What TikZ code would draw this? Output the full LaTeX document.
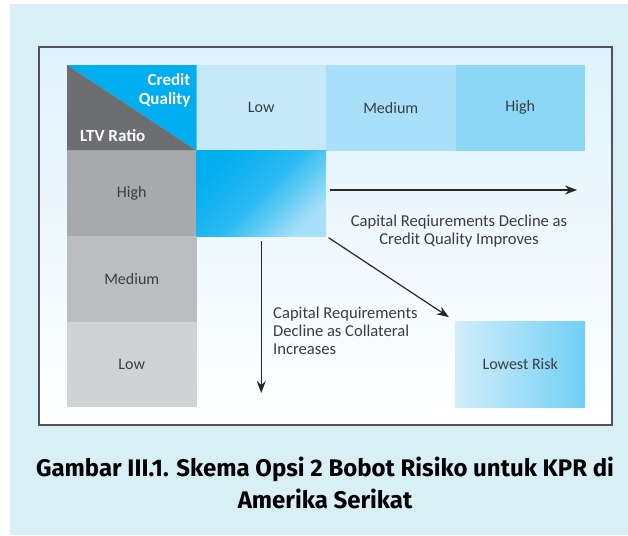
\documentclass[tikz,border=0pt]{standalone}
\usepackage{fontspec}
\usepackage{xcolor}
\setmainfont{Carlito}
\newfontfamily\capfont{Fira Sans}
\usetikzlibrary{positioning}
\usetikzlibrary{arrows.meta,calc}
\definecolor{bgcyan}{HTML}{D9EFF6}
\definecolor{frametop}{HTML}{DFF2FC}
\definecolor{framegray}{HTML}{505257}
\definecolor{cqlowc}{HTML}{C6E9F9}
\definecolor{cqmedc}{HTML}{A9E0F9}
\definecolor{cqhighc}{HTML}{8DD7F6}
\definecolor{ltvhighc}{HTML}{A7A9AC}
\definecolor{ltvmedc}{HTML}{BCBDC0}
\definecolor{ltvlowc}{HTML}{D1D2D4}
\definecolor{cornergray}{HTML}{6D6E71}
\definecolor{cornerblue}{HTML}{00AEEF}
\definecolor{txtgray}{HTML}{3C3C3E}
\begin{document}
\begin{tikzpicture}[
x=1pt, y=-1pt,
node distance = 0pt,
cell/.style={rectangle, minimum width=129.5pt, minimum height=85.5pt, inner sep=0pt, outer sep=0pt, text=txtgray, font=\fontsize{16}{18}\selectfont},
colhead/.style={cell, fill=#1},
rowhead/.style={cell, fill=#1},
note/.style={text=txtgray, font=\fontsize{16.6}{18}\selectfont, inner sep=0pt},
corner text/.style={text=white, font=\bfseries\fontsize{17}{19}\selectfont, inner sep=0pt},
flow/.style={-{Stealth[length=12pt,width=9pt]}, draw=black!85, line width=1.2pt}]
\useasboundingbox (0,0) rectangle (628,535);
\fill[bgcyan] (10,4) rectangle (628,535);
\shade[top color=frametop, bottom color=white] (39,47) rectangle (612,425);
\draw[framegray, line width=1.3pt] (39,47) rectangle (612,425);
% header row
\node [cell, anchor=north west] (corner) at (67,65) {};
\fill[cornerblue] (corner.north west) -- (corner.north east) -- (corner.south east) -- cycle;
\fill[cornergray] (corner.north west) -- (corner.south east) -- (corner.south west) -- cycle;
\node [corner text, anchor=north east, align=right] (cq) at ([xshift=-6pt,yshift=-8pt]corner.north east) {Credit\\Quality};
\node [corner text, anchor=south west] (ltv) at ([xshift=13pt,yshift=9pt]corner.south west) {LTV Ratio};
\node [colhead=cqlowc] (cqlow) [right=of corner] {Low};
\node [colhead=cqmedc] (cqmed) [right=of cqlow] {Medium};
\node [colhead=cqhighc] (cqhigh) [right=of cqmed] {High};
% ltv rows
\node [rowhead=ltvhighc] (ltvhigh) [below=of corner] {High};
\node [rowhead=ltvmedc] (ltvmed) [below=of ltvhigh] {Medium};
\node [rowhead=ltvlowc] (ltvlow) [below=of ltvmed] {Low};
% risk cells
\node [cell, top color=cornerblue, bottom color=cqmedc, middle color=cornerblue!75!cqmedc, shading angle=45] (worst) [right=of ltvhigh] {};
\node [cell, left color=cqlowc!80!white, right color=cqhighc!80!cornerblue] (lowest) at (cqhigh |- ltvlow) {Lowest Risk};
% arrows
\coordinate (hend) at (577,190);
\coordinate (vend) at (worst.south |- 0,393);
\draw [flow] (worst.east |- hend) ++(4pt,0) -- (hend);
\draw [flow] ([yshift=-5pt]worst.south) -- (vend);
\draw [flow, shorten <=3pt, shorten >=8pt] (worst.south east) -- (lowest.north west);
\node [note, align=center] (cqnote) at (459,231) {Capital Reqiurements Decline as\\Credit Quality Improves};
\node [note, align=left, anchor=north west] (ltvnote) at (273,307) {Capital Requirements\\Decline as Collateral\\Increases};
% caption
\node [font=\capfont\bfseries\fontsize{24}{32}\selectfont, align=center, inner sep=0pt] (title) at (325,483) {Gambar III.1. Skema Opsi 2 Bobot Risiko untuk KPR di\\Amerika Serikat};
\end{tikzpicture}
\end{document}
